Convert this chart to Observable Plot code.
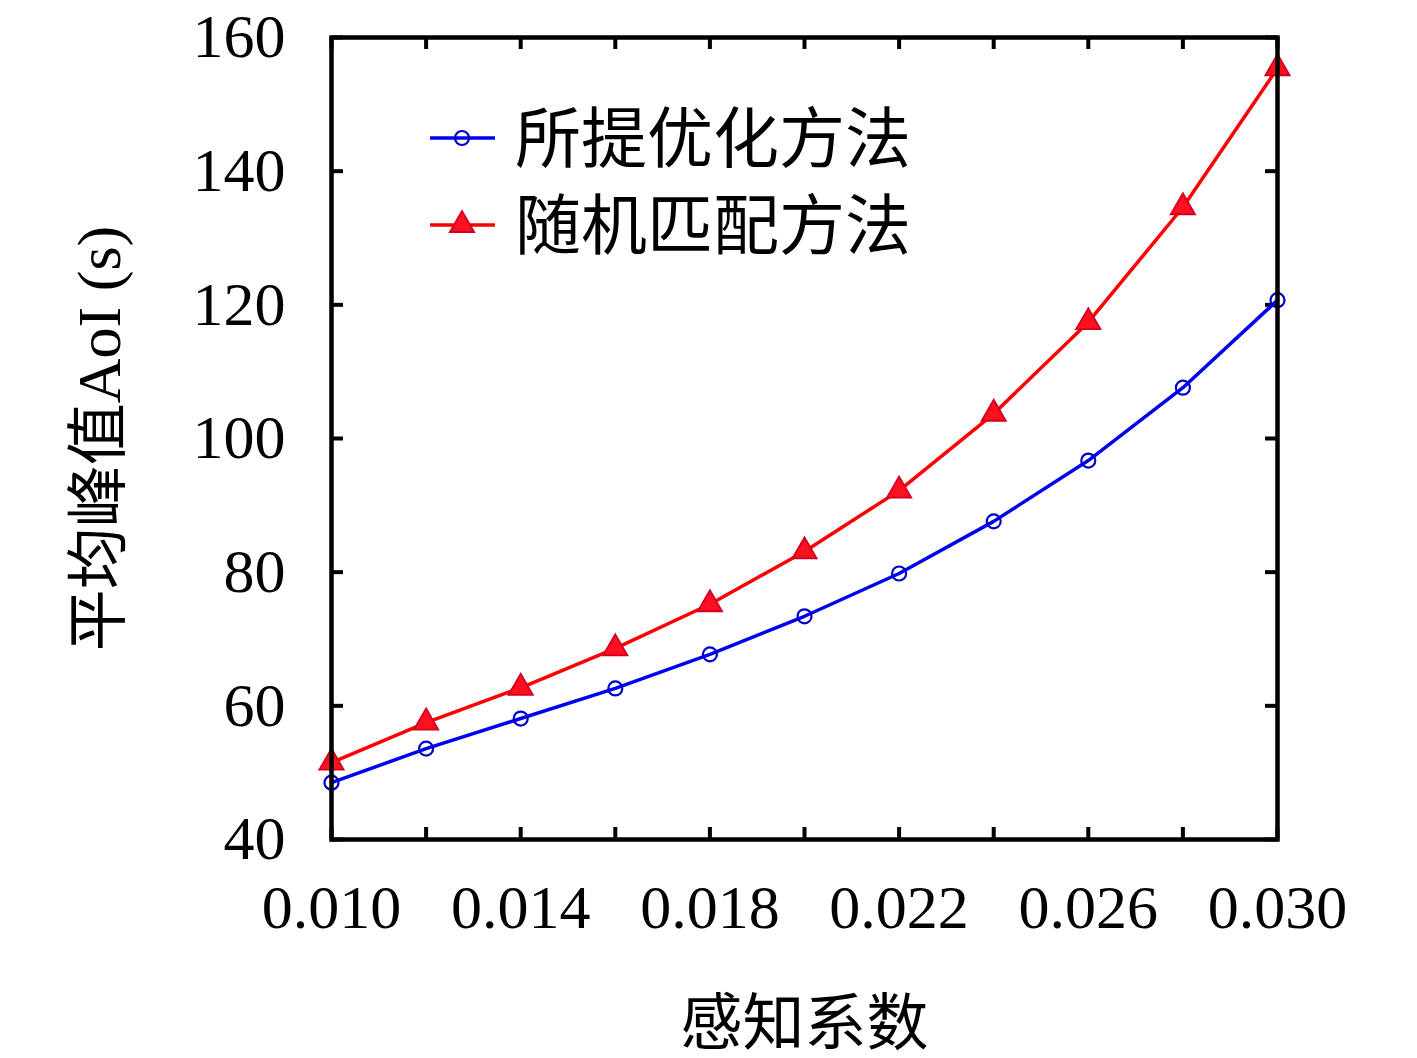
<!DOCTYPE html>
<html><head><meta charset="utf-8">
<script src="https://cdn.jsdelivr.net/npm/d3@7"></script>
<script src="https://cdn.jsdelivr.net/npm/@observablehq/plot@0.6"></script>
<style>
body{margin:0;background:#fff;}
svg{font-family:"Liberation Serif","Noto Sans CJK SC",serif;}
</style></head><body><div id="chart"></div>
<script>
const xValues = [0.010,0.012,0.014,0.016,0.018,0.020,0.022,0.024,0.026,0.028,0.030];
const proposed = [48.5,53.6,58.1,62.6,67.7,73.4,79.8,87.6,96.7,107.6,120.7];
const randomMatch = [51.5,57.5,62.7,68.6,75.2,83.1,92.2,103.7,117.4,134.6,155.4];
const seriesNames = ["所提优化方法","随机匹配方法"];
const xTickLabels = [0.010,0.014,0.018,0.022,0.026,0.030];
const xMinorTicks = [0.010,0.012,0.014,0.016,0.018,0.020,0.022,0.024,0.026,0.028,0.030];
const yTicks = [40,60,80,100,120,140,160];
const xLabel = "感知系数";
const yLabel = "平均峰值AoI (s)";

const W=1417,H=1058,mL=331,mR=140,mT=37,mB=219;
const pw=W-mL-mR, ph=H-mT-mB, tl=12;
const blueData = xValues.map((x,i)=>({x,y:proposed[i]}));
const redData = xValues.map((x,i)=>({x,y:randomMatch[i]}));

const plot = Plot.plot({
  width:W,height:H,marginLeft:mL,marginRight:mR,marginTop:mT,marginBottom:mB,
  x:{domain:[0.010,0.030]},
  y:{domain:[40,160]},
  style:{fontSize:"62px",color:"#000",background:"#fff"},
  marks:[
    Plot.tickX(xMinorTicks,{x:d=>d,insetTop:ph-tl,strokeWidth:4}),
    Plot.tickX(xMinorTicks,{x:d=>d,insetBottom:ph-tl,strokeWidth:4}),
    Plot.tickY(yTicks,{y:d=>d,insetRight:pw-tl,strokeWidth:4}),
    Plot.tickY(yTicks,{y:d=>d,insetLeft:pw-tl,strokeWidth:4}),
    Plot.axisX(xTickLabels,{tickSize:0,tickPadding:44,tickFormat:d3.format(".3f"),label:null,fontSize:62}),
    Plot.axisX({ticks:[],label:xLabel,labelAnchor:"center",labelArrow:"none",labelOffset:205,fontSize:62}),
    Plot.axisY(yTicks,{tickSize:0,tickPadding:46,label:null,fontSize:62}),
    Plot.axisY({ticks:[],label:yLabel,labelAnchor:"center",labelArrow:"none",labelOffset:256,fontSize:62}),
    Plot.line(redData,{x:"x",y:"y",stroke:"#ff0000",strokeWidth:3.5}),
    Plot.line(blueData,{x:"x",y:"y",stroke:"#0000ee",strokeWidth:3.5}),
    Plot.dot(redData,{x:"x",y:"y",symbol:"triangle",r:9,fill:"#ff1020",stroke:"#d00020",strokeWidth:1.8}),
    Plot.dot(blueData,{x:"x",y:"y",r:7,fill:"none",stroke:"#0000cc",strokeWidth:2.2}),
    Plot.frame({stroke:"#000",strokeWidth:4.5})
  ]
});
document.getElementById("chart").appendChild(plot);

// legend
const svg = d3.select(plot);
const lg = svg.append("g").attr("text-anchor","start");
const legendItems = [
  {name:seriesNames[0],color:"#0000ee",sym:"circle",y:138},
  {name:seriesNames[1],color:"#ff0000",sym:"triangle",y:225}
];
legendItems.forEach(it=>{
  lg.append("line").attr("x1",430).attr("x2",495).attr("y1",it.y).attr("y2",it.y)
    .attr("stroke",it.color).attr("stroke-width",3.5);
  if(it.sym==="circle"){
    lg.append("circle").attr("cx",462).attr("cy",it.y).attr("r",7).attr("fill","none")
      .attr("stroke","#0000cc").attr("stroke-width",2.2);
  } else {
    lg.append("path").attr("transform",`translate(462,${it.y})`)
      .attr("d",d3.symbol(d3.symbolTriangle,Math.PI*81)())
      .attr("fill","#ff1020").attr("stroke","#d00020").attr("stroke-width",1.8);
  }
  lg.append("text").attr("x",515).attr("y",it.y).attr("dy","0.36em")
    .attr("text-anchor","start").attr("font-size",66).attr("fill","#000").text(it.name);
});
</script></body></html>
